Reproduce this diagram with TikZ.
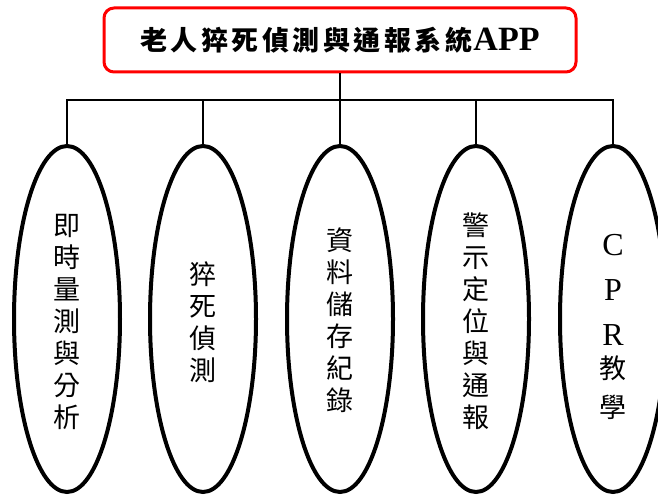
\documentclass[tikz,border=0pt]{standalone}
\usepackage{fontspec}
\setmainfont{Liberation Serif}
\newfontfamily\cjk{Noto Sans CJK TC}
\usetikzlibrary{shapes.geometric}
\newcommand\tk{\kern 3.5pt}
\tikzset{
  titlebox/.style={draw=red, line width=3pt, rounded corners=10pt,
    minimum width=472pt, minimum height=64pt, inner sep=0pt},
  oval/.style={ellipse, draw, line width=4pt, minimum width=106pt,
    minimum height=346pt, inner sep=0pt},
  vtext/.style={inner sep=0pt, align=center,
    font=\cjk\fontsize{27}{32}\selectfont},
  link/.style={line width=1.6pt}
}
\begin{document}
\begin{tikzpicture}[x=1pt,y=-1pt]
\clip (0,0) rectangle (658,497);
\node[titlebox] (title) at (340,40)
  {{\cjk\bfseries\fontsize{27}{30}\selectfont 老\tk 人\tk 猝\tk 死\tk 偵\tk 測\tk 與\tk 通\tk 報\tk 系\tk 統}\kern1pt{\bfseries\fontsize{34}{36}\selectfont APP}};
\node[oval] (e1) at (67,319) {};
\node[oval] (e2) at (203,319) {};
\node[oval] (e3) at (340,319) {};
\node[oval] (e4) at (476,319) {};
\node[oval] (e5) at (613,319) {};
\node[vtext] (t1) at (67,322) {即\\時\\量\\測\\與\\分\\析};
\node[vtext] (t2) at (203,322) {猝\\死\\偵\\測};
\node[vtext] (t3) at (340,320) {資\\料\\儲\\存\\紀\\錄};
\node[vtext] (t4) at (476,321) {警\\示\\定\\位\\與\\通\\報};
\node[vtext] (t5) at (613,327) {\rmfamily\fontsize{32}{32}\selectfont C\\[13pt]\rmfamily\fontsize{32}{32}\selectfont P\\[13pt]\rmfamily\fontsize{32}{32}\selectfont R\\[1pt]\cjk\fontsize{27}{32}\selectfont 教\\[7pt]\cjk\fontsize{27}{32}\selectfont 學};
\coordinate (bus) at (340,100);
\draw[link] (title.south) -- (bus);
\draw[link] (e1.north) |- (bus);
\draw[link] (e2.north) |- (bus);
\draw[link] (e3.north) -- (bus);
\draw[link] (e4.north) |- (bus);
\draw[link] (e5.north) |- (bus);
\end{tikzpicture}
\end{document}
